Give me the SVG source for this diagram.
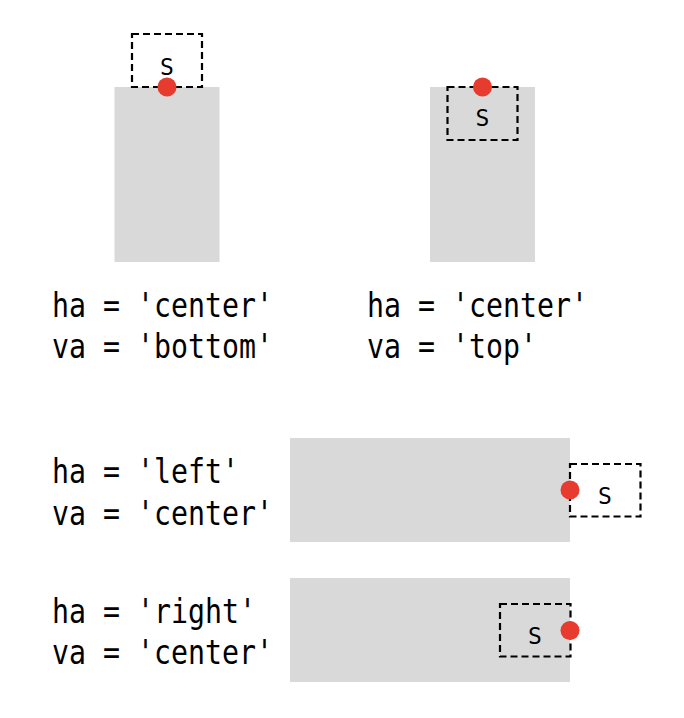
<svg xmlns="http://www.w3.org/2000/svg" width="684" height="718" viewBox="0 0 684 718">
  <style>
    .bg { fill: #d9d9d9; }
    .dot { fill: #e63b2e; }
    .box { fill: none; stroke: #000; stroke-width: 2.2; stroke-dasharray: 7 4; }
    .lbl { font-family: "DejaVu Sans Mono", "Liberation Mono", monospace; font-size: 33px; fill: #000; }
    .s { font-family: "DejaVu Sans Mono", "Liberation Mono", monospace; font-size: 23px; fill: #000; text-anchor: middle; }
  </style>
  <rect width="684" height="718" fill="#ffffff"/>

  <g id="panel-center-bottom">
    <rect class="bg" x="114.5" y="87" width="105" height="175"/>
    <rect class="box" x="132" y="34" width="70" height="53"/>
    <text class="s" x="167" y="75">S</text>
    <circle class="dot" cx="167" cy="87" r="9.5"/>
    <text class="lbl" x="52" y="317" textLength="221" lengthAdjust="spacingAndGlyphs">ha = 'center'</text>
    <text class="lbl" x="52" y="358" textLength="221" lengthAdjust="spacingAndGlyphs">va = 'bottom'</text>
  </g>

  <g id="panel-center-top">
    <rect class="bg" x="430" y="87" width="105" height="175"/>
    <rect class="box" x="447.5" y="87" width="70" height="53"/>
    <text class="s" x="482.5" y="126">S</text>
    <circle class="dot" cx="482.5" cy="87" r="9.5"/>
    <text class="lbl" x="367" y="317" textLength="221" lengthAdjust="spacingAndGlyphs">ha = 'center'</text>
    <text class="lbl" x="367" y="358" textLength="170" lengthAdjust="spacingAndGlyphs">va = 'top'</text>
  </g>

  <g id="panel-left-center">
    <rect class="bg" x="290" y="438" width="280" height="104"/>
    <rect class="box" x="570" y="464" width="70.5" height="52.5"/>
    <text class="s" x="605" y="504">S</text>
    <circle class="dot" cx="570" cy="490" r="9.5"/>
    <text class="lbl" x="52" y="483" textLength="187" lengthAdjust="spacingAndGlyphs">ha = 'left'</text>
    <text class="lbl" x="52" y="525" textLength="221" lengthAdjust="spacingAndGlyphs">va = 'center'</text>
  </g>

  <g id="panel-right-center">
    <rect class="bg" x="290" y="578" width="280" height="104"/>
    <rect class="box" x="500" y="604" width="70.5" height="52.5"/>
    <text class="s" x="535" y="644">S</text>
    <circle class="dot" cx="570" cy="630.5" r="9.5"/>
    <text class="lbl" x="52" y="623" textLength="204" lengthAdjust="spacingAndGlyphs">ha = 'right'</text>
    <text class="lbl" x="52" y="664" textLength="221" lengthAdjust="spacingAndGlyphs">va = 'center'</text>
  </g>

  <g id="connectors"></g>
</svg>
